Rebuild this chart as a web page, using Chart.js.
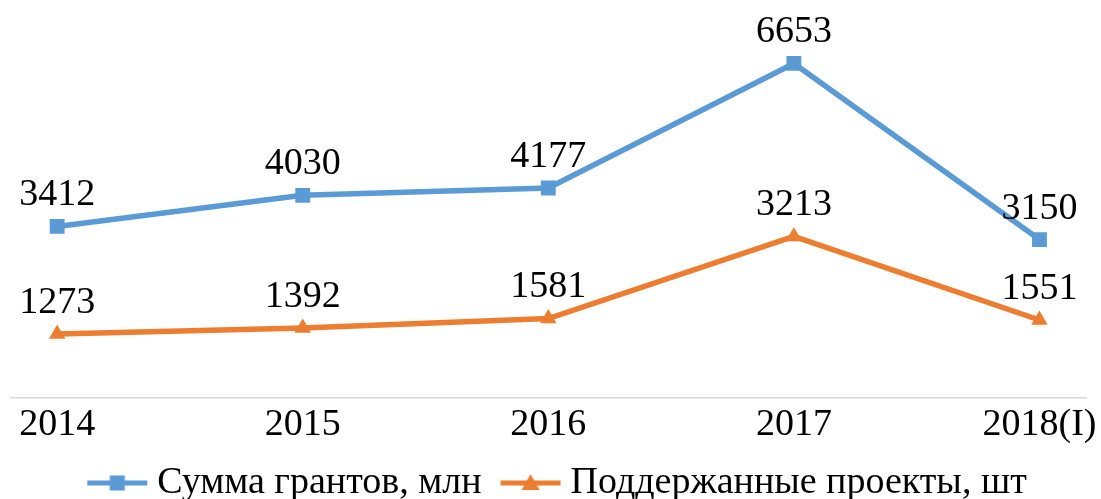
<!DOCTYPE html>
<html>
<head>
<meta charset="utf-8">
<script src="https://cdn.jsdelivr.net/npm/chart.js@4"></script>
<style>
    html, body { margin: 0; padding: 0; background: #ffffff; }
    #chart { display: block; }
</style>
</head>
<body>
<canvas id="chart" width="1101" height="499"></canvas>
<script>
var years = ['2014', '2015', '2016', '2017', '2018(I)'];
var grants = [3412, 4030, 4177, 6653, 3150];
var projects = [1273, 1392, 1581, 3213, 1551];
var seriesNames = ['Сумма грантов, млн', 'Поддержанные проекты, шт'];

(function() {
    'use strict';

    var BLUE = '#5B9BD5';
    var ORANGE = '#ED7D31';
    var FONT = '"Liberation Serif", "Times New Roman", serif';
    var FONT_SIZE = 38;

    // legend icon: line + marker, with transparent room on the left so items get spaced apart
    // (legend padding is kept at 0 so it doesn't add height)
    function legendIcon(color, shape) {
        var c = document.createElement('canvas');
        c.width = 120;
        c.height = 20;
        var g = c.getContext('2d');
        g.strokeStyle = color;
        g.lineWidth = 5;
        g.beginPath();
        g.moveTo(44, 10);
        g.lineTo(104, 10);
        g.stroke();
        g.fillStyle = color;
        if (shape === 'rect') {
            g.fillRect(66.5, 2.5, 15, 15);
        } else {
            g.beginPath();
            g.moveTo(74, 1);
            g.lineTo(83, 17);
            g.lineTo(65, 17);
            g.closePath();
            g.fill();
        }
        return c;
    }
    var icons = [legendIcon(BLUE, 'rect'), legendIcon(ORANGE, 'tri')];

    function toPoints(arr) {
        return arr.map(function(v, i) { return { x: i, y: v }; });
    }

    // value labels above each point
    var valueLabels = {
        id: 'valueLabels',
        afterDatasetsDraw: function(chart) {
            var ctx = chart.ctx;
            ctx.save();
            ctx.font = FONT_SIZE + 'px ' + FONT;
            ctx.fillStyle = '#000000';
            ctx.textAlign = 'center';
            ctx.textBaseline = 'alphabetic';
            chart.data.datasets.forEach(function(ds, di) {
                chart.getDatasetMeta(di).data.forEach(function(pt, i) {
                    ctx.fillText(String(ds.data[i].y), pt.x, pt.y - 21);
                });
            });
            ctx.restore();
        }
    };

    new Chart(document.getElementById('chart'), {
        type: 'line',
        data: {
            datasets: [{
                label: seriesNames[0],
                data: toPoints(grants),
                borderColor: BLUE,
                backgroundColor: BLUE,
                borderWidth: 5.5,
                pointStyle: 'rect',
                pointRadius: 10.5,
                pointBorderWidth: 0,
                tension: 0
            }, {
                label: seriesNames[1],
                data: toPoints(projects),
                borderColor: ORANGE,
                backgroundColor: ORANGE,
                borderWidth: 5.5,
                pointStyle: 'triangle',
                pointRadius: 9.5,
                pointBorderWidth: 0,
                tension: 0
            }]
        },
        options: {
            responsive: false,
            animation: false,
            layout: { padding: { top: 46, left: 7, right: 13, bottom: -13 } },
            plugins: {
                tooltip: { enabled: false },
                legend: {
                    position: 'bottom',
                    labels: {
                        usePointStyle: true,
                        pointStyleWidth: 70,
                        padding: 0,
                        color: '#000000',
                        font: { family: FONT, size: FONT_SIZE, lineHeight: 1 },
                        generateLabels: function(chart) {
                            return chart.data.datasets.map(function(ds, i) {
                                return {
                                    text: ds.label,
                                    pointStyle: icons[i],
                                    fillStyle: ds.borderColor,
                                    strokeStyle: ds.borderColor,
                                    lineWidth: 0,
                                    hidden: false,
                                    datasetIndex: i,
                                    fontColor: '#000000'
                                };
                            });
                        }
                    }
                }
            },
            scales: {
                x: {
                    type: 'linear',
                    min: -0.19,
                    max: 4.19,
                    afterBuildTicks: function(scale) {
                        scale.ticks = years.map(function(y, i) { return { value: i }; });
                    },
                    afterFit: function(scale) { scale.height = 66; },
                    grid: { display: false, drawTicks: false },
                    border: { display: true, color: '#D9D9D9', width: 1.5 },
                    ticks: {
                        autoSkip: false,
                        maxRotation: 0,
                        padding: 4,
                        color: '#000000',
                        font: { family: FONT, size: FONT_SIZE },
                        callback: function(v) { return years[v] !== undefined ? years[v] : ''; }
                    }
                },
                y: {
                    display: false,
                    min: 0,
                    max: 7000
                }
            }
        },
        plugins: [valueLabels]
    });
})();
</script>
</body>
</html>
